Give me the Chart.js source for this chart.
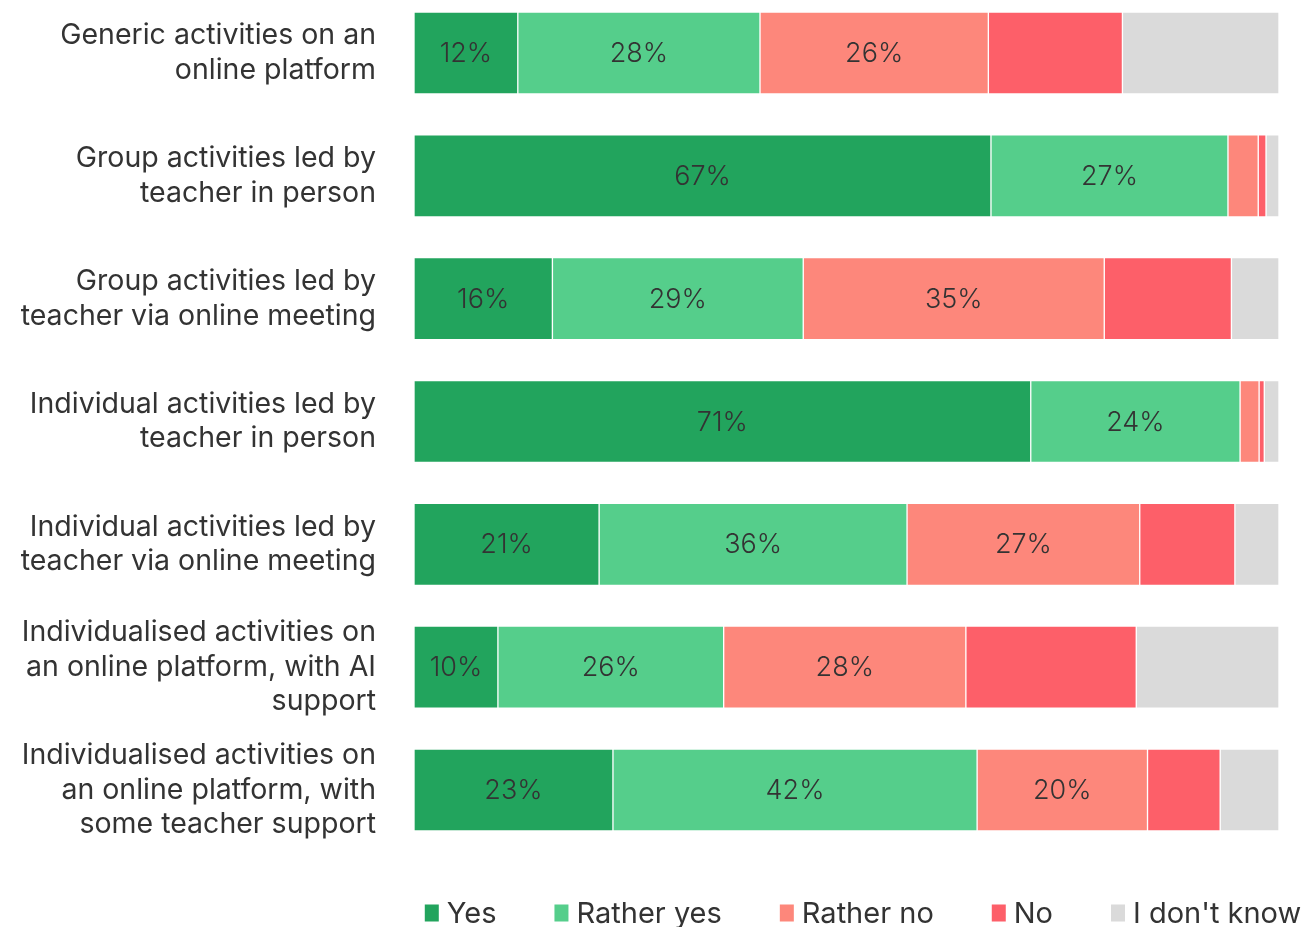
<!DOCTYPE html>
<html>
<head>
<meta charset="utf-8">
<script src="https://cdn.jsdelivr.net/npm/chart.js@4/dist/chart.umd.min.js"></script>
<style>
  html, body { margin: 0; padding: 0; background: #fff; overflow: hidden; }
  #wrap { width: 1304px; height: 927px; }
</style>
</head>
<body>
<div id="wrap"><canvas id="chart"></canvas></div>
<script>
const categories = [
  ["Generic activities on an", "online platform"],
  ["Group activities led by", "teacher in person"],
  ["Group activities led by", "teacher via online meeting"],
  ["Individual activities led by", "teacher in person"],
  ["Individual activities led by", "teacher via online meeting"],
  ["Individualised activities on", "an online platform, with AI", "support"],
  ["Individualised activities on", "an online platform, with", "some teacher support"]
]

const seriesNames = ["Yes", "Rather yes", "Rather no", "No", "I don't know"]
const yesValues = [12, 66.7, 16, 71.3, 21.4, 9.7, 23]
const ratherYesValues = [28, 27.4, 29, 24.2, 35.6, 26.1, 42.1]
const ratherNoValues = [26.4, 3.5, 34.8, 2.2, 26.9, 28, 19.7]
const noValues = [15.5, 0.9, 14.7, 0.6, 11, 19.7, 8.4]
const dontKnowValues = [18.1, 1.5, 5.5, 1.7, 5.1, 16.5, 6.8]

const colors = ['#22a45d', '#55ce8b', '#fd877b', '#fd5f69', '#dadada']
const fontFamily = "Inter, 'Open Sans', sans-serif"
const textColor = '#333333'

const allValues = [yesValues, ratherYesValues, ratherNoValues, noValues, dontKnowValues]

const datasets = seriesNames.map((name, i) => ({
  label: name,
  data: allValues[i],
  backgroundColor: colors[i],
  borderColor: 'rgba(255,255,255,0.35)',
  borderWidth: 1,
  borderSkipped: false,
  barThickness: 82,
  clip: false
}))

// value labels on the first three series only
const valueLabels = {
  id: 'valueLabels',
  afterDatasetsDraw(chart) {
    const ctx = chart.ctx
    ctx.save()
    ctx.font = `300 27px ${fontFamily}`
    ctx.fillStyle = textColor
    ctx.textAlign = 'center'
    ctx.textBaseline = 'middle'
    for (let d = 0; d < 3; d++) {
      const meta = chart.getDatasetMeta(d)
      meta.data.forEach((bar, i) => {
        const v = chart.data.datasets[d].data[i]
        if (v < 5) return
        const x = (bar.x + bar.base) / 2
        ctx.fillText(Math.round(v) + '%', x, bar.y + 1)
      })
    }
    ctx.restore()
  }
}

// legend drawn at the bottom of the canvas
const bottomLegend = {
  id: 'bottomLegend',
  afterDraw(chart) {
    const ctx = chart.ctx
    ctx.save()
    ctx.font = `29px ${fontFamily}`
    ctx.textBaseline = 'middle'
    ctx.textAlign = 'left'
    const boxW = 14, boxH = 17, gapText = 8, gapItem = 58
    const items = chart.data.datasets.map(ds => ({ text: ds.label, color: ds.backgroundColor, w: ctx.measureText(ds.label).width }))
    let total = 0
    items.forEach((it, i) => { total += boxW + gapText + it.w + (i < items.length - 1 ? gapItem : 0) })
    let x = 863 - total / 2
    const cy = 913
    items.forEach(it => {
      ctx.fillStyle = it.color
      ctx.fillRect(x, cy - boxH / 2, boxW, boxH)
      ctx.fillStyle = textColor
      ctx.fillText(it.text, x + boxW + gapText, cy + 1)
      x += boxW + gapText + it.w + gapItem
    })
    ctx.restore()
  }
}

new Chart(document.getElementById('chart'), {
  type: 'bar',
  data: {
    labels: categories,
    datasets: datasets
  },
  options: {
    indexAxis: 'y',
    responsive: true,
    maintainAspectRatio: false,
    animation: false,
    layout: {
      padding: { top: 0, bottom: 137, right: 25, left: 0 }
    },
    scales: {
      x: {
        stacked: true,
        min: 0,
        max: 100,
        display: false
      },
      y: {
        stacked: true,
        offset: false,
        grid: { display: false, drawTicks: false },
        border: { display: false },
        afterFit: (scale) => { scale.width = 414; scale.paddingTop = 53; scale.paddingBottom = 0 },
        ticks: {
          padding: 38,
          color: textColor,
          font: { size: 28.5, family: fontFamily, lineHeight: 1.22 }
        }
      }
    },
    plugins: {
      legend: { display: false },
      tooltip: { enabled: false }
    }
  },
  plugins: [valueLabels, bottomLegend]
})
</script>
</body>
</html>
